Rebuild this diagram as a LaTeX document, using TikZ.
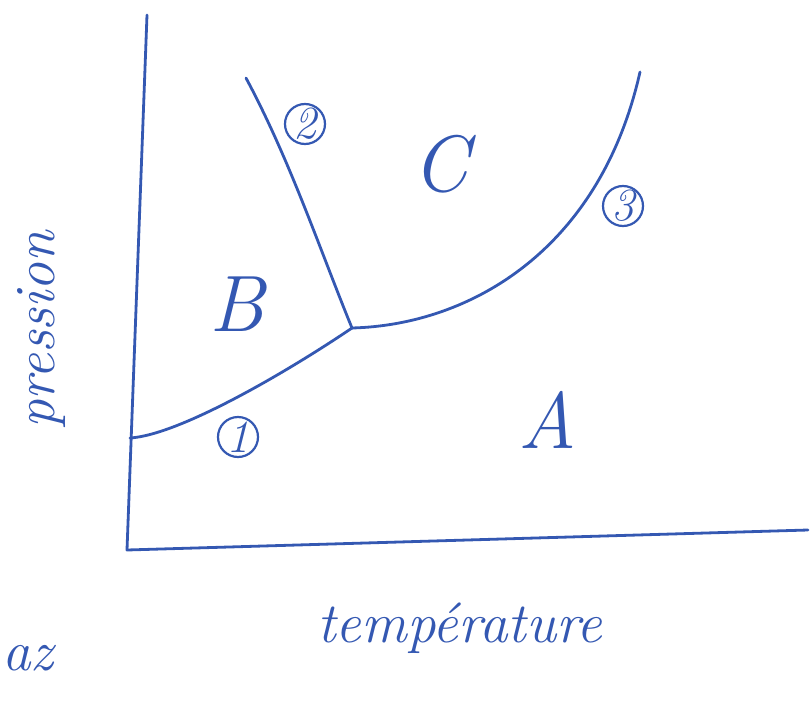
\documentclass[tikz,border=0pt]{standalone}
\usepackage{tikz}
\usetikzlibrary{arrows.meta}
\definecolor{ink}{RGB}{52,88,178}

\begin{document}
\begin{tikzpicture}[x=1pt,y=-1pt,line width=2.8pt,ink,line cap=round,line join=round,
    region/.style={font=\fontsize{80}{82}\selectfont\itshape},
    axislabel/.style={font=\fontsize{57}{60}\selectfont\itshape},
    numcirc/.style={draw,circle,line width=2.2pt,minimum size=40pt,inner sep=0pt,font=\fontsize{46}{48}\selectfont\itshape}]
            \useasboundingbox (0,0) rectangle (812,704);
            % axes
            \coordinate (top) at (147,15);
            \coordinate (origin) at (127,550);
            \coordinate (right) at (808,530);
            \draw (top) -- (origin) -- (right);
            % phase boundaries
            \coordinate (tp) at (352,328);
            \coordinate (left) at (130,438);
            \coordinate (upper) at (246,78);
            \coordinate (far) at (640,72);
            \draw (left) .. controls (180,435) and (290,370) .. (tp);
            \draw (upper) .. controls (290,160) and (320,250) .. (tp);
            \draw (tp) .. controls (470,325) and (600,250) .. (far);
            % labels
            \node[numcirc] (n1) at (238,437) {1};
            \node[numcirc] (n2) at (305,124) {2};
            \node[numcirc] (n3) at (623,206) {3};
            \node[region] (A) at (548,420) {A};
            \node[region] (B) at (237,304) {B};
            \node[region] (C) at (440,164) {C};
            \node[axislabel,rotate=90] (p) at (42,330) {pression};
            \node[axislabel] (t) at (460,628) {température};
            \node[axislabel,anchor=west,inner sep=0pt] (g) at (1,658) {az};
        \end{tikzpicture}
\end{document}
